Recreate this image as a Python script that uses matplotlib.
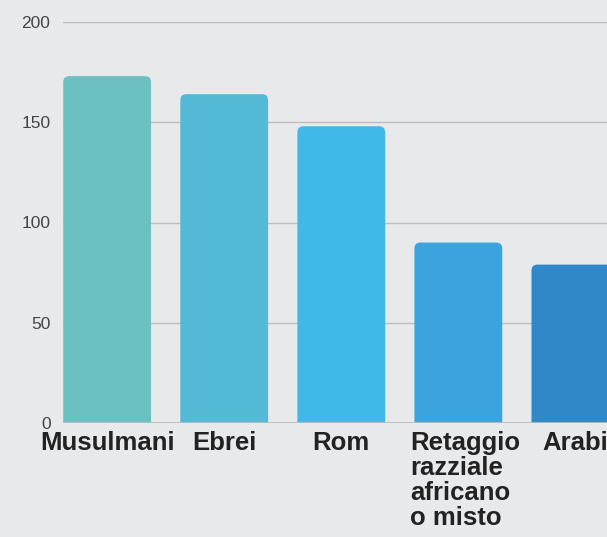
import matplotlib
matplotlib.use("Agg")
import matplotlib.pyplot as plt
import matplotlib.transforms as mtransforms
from matplotlib.patches import FancyBboxPatch

categories = ["Musulmani", "Ebrei", "Rom", "Retaggio\nrazziale\nafricano\no misto", "Arabi"]
values = [173, 164, 148, 90, 79]
colors = ["#6CC0C2", "#54B9D5", "#41B9E8", "#3BA3DD", "#3188C9"]
yticks = [0, 50, 100, 150, 200]

plt.rcParams['font.family'] = ['Liberation Sans', 'DejaVu Sans']

W, H = 607, 537
fig = plt.figure(figsize=(W / 100, H / 100), dpi=100)
bg = "#E8E9EB"
fig.patch.set_facecolor(bg)

left_px, right_px = 63, 607
bottom_px, top_px = 423, 22
ax = fig.add_axes([left_px / W, (H - bottom_px) / H,
                   (right_px - left_px) / W, (bottom_px - top_px) / H])
ax.set_facecolor(bg)

x = list(range(len(categories)))
bw = 0.75
bars = ax.bar(x, values, width=bw, color=colors, zorder=3)
ax.set_xlim(-0.377, 4.27)
ax.set_ylim(0, 200)

# rounded tops
xlim = ax.get_xlim(); ylim = ax.get_ylim()
px_per_x = (right_px - left_px) / (xlim[1] - xlim[0])
px_per_y = (bottom_px - top_px) / (ylim[1] - ylim[0])
aspect = px_per_x / px_per_y
r = 6 / px_per_x
for rect, c in zip(bars, colors):
    rect.set_visible(False)
    x0 = rect.get_x(); w = rect.get_width(); h = rect.get_height()
    p = FancyBboxPatch((x0, -10), w, h + 10,
                       boxstyle=f"round,pad=0,rounding_size={r}",
                       mutation_aspect=aspect, facecolor=c, edgecolor='none',
                       zorder=3, clip_on=True)
    ax.add_patch(p)

ax.set_yticks(yticks)
ax.set_yticklabels([str(v) for v in yticks])
ax.grid(axis='y', color="#BDBDBD", linewidth=1.0, zorder=0)
ax.set_axisbelow(True)
for s in ax.spines.values():
    s.set_visible(False)
ax.axhline(0, color="#BDBDBD", linewidth=1.2, zorder=4)

ax.tick_params(axis='y', length=0, pad=9, labelsize=12.5, labelcolor="#444444")
ax.set_xticks(x)
ax.set_xticklabels(categories, fontsize=18.5, fontweight='bold', color="#222222",
                   linespacing=1.05)
ax.tick_params(axis='x', length=0, pad=6)
for lbl in ax.get_xticklabels():
    lbl.set_multialignment('left')
    if "\n" in lbl.get_text():
        lbl.set_transform(lbl.get_transform() +
                          mtransforms.ScaledTranslation(7 / 100, 0, fig.dpi_scale_trans))

fig.savefig("out.png", dpi=100, facecolor=bg)
